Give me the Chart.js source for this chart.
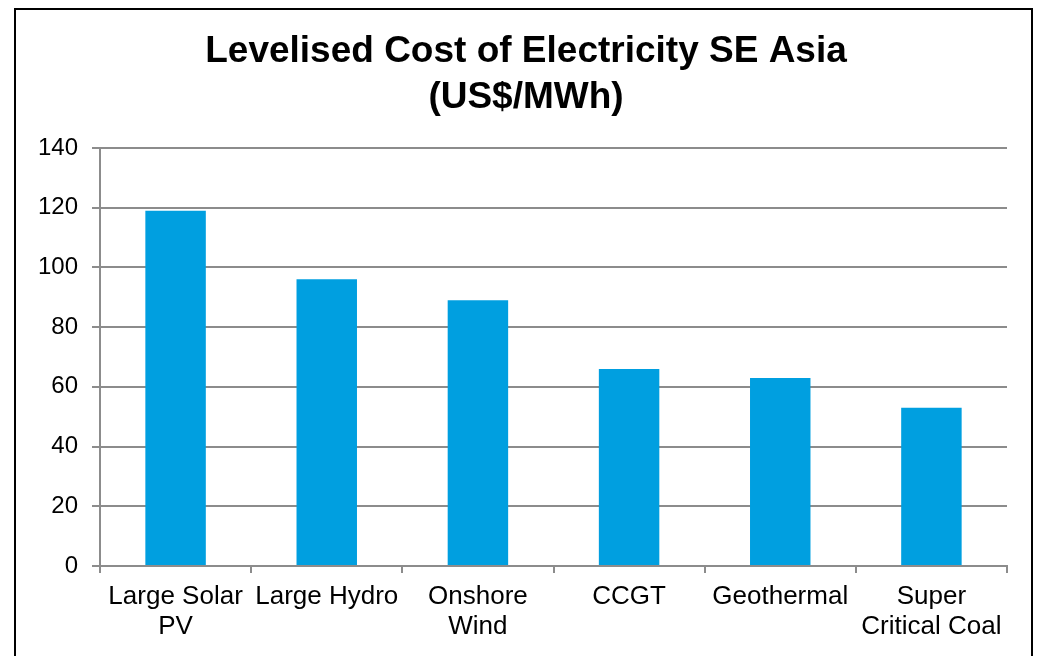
<!DOCTYPE html>
<html>
<head>
<meta charset="utf-8">
<script src="https://cdn.jsdelivr.net/npm/chart.js@4.4.0/dist/chart.umd.min.js"></script>
<style>
  html, body { margin: 0; padding: 0; background: #ffffff; }
  #wrap { position: absolute; left: 0; top: 0; width: 1039px; height: 656px; }
  #frame { position: absolute; left: 14px; top: 8px; width: 1015px; height: 700px; border: 2px solid #000; pointer-events: none; }
</style>
</head>
<body>
<div id="wrap"><canvas id="c" width="1039" height="656"></canvas></div>
<div id="frame"></div>
<script>
const categories = [['Large Solar', 'PV'], ['Large Hydro'], ['Onshore', 'Wind'], ['CCGT'], ['Geothermal'], ['Super', 'Critical Coal']];
const costValues = [119, 96, 89, 66, 63, 53];
const titleLines = ['Levelised Cost of Electricity SE Asia', '(US$/MWh)'];
const yMin = 0, yMax = 140, yStep = 20;

// Centre the title on the framed chart box rather than on the full canvas width.
const titleCentering = {
  id: 'titleCentering',
  afterLayout(chart) {
    if (chart.titleBlock) { chart.titleBlock.left += 45; }
  }
};

new Chart(document.getElementById('c'), {
  type: 'bar',
  data: {
    labels: categories,
    datasets: [{
      data: costValues,
      backgroundColor: '#009fe0',
      borderWidth: 0,
      barPercentage: 0.4,
      categoryPercentage: 1.0
    }]
  },
  plugins: [titleCentering],
  options: {
    responsive: false,
    animation: false,
    devicePixelRatio: 1,
    layout: { padding: { left: 0, right: 32, top: 0, bottom: 0 } },
    plugins: {
      legend: { display: false },
      tooltip: { enabled: false },
      title: {
        display: true,
        text: titleLines,
        color: '#000',
        font: { family: '"Liberation Sans", Arial, sans-serif', size: 37, weight: 'bold', lineHeight: 1.243 },
        padding: { top: 29, bottom: 27 }
      }
    },
    scales: {
      x: {
        offset: true,
        grid: { display: true, drawOnChartArea: false, drawTicks: true, tickLength: 7, color: '#8c8c8c', lineWidth: 2, offset: true },
        border: { display: true, color: '#8c8c8c', width: 2 },
        ticks: {
          color: '#000',
          font: { family: '"Liberation Sans", Arial, sans-serif', size: 26, lineHeight: 1.15 },
          padding: 9,
          maxRotation: 0,
          minRotation: 0,
          autoSkip: false
        },
        afterFit: (s) => { s.height = 90; }
      },
      y: {
        min: yMin,
        max: yMax,
        grid: { color: '#8c8c8c', lineWidth: 2, tickLength: 8, drawTicks: true },
        border: { display: true, color: '#8c8c8c', width: 2 },
        ticks: {
          stepSize: yStep,
          color: '#000',
          font: { family: '"Liberation Sans", Arial, sans-serif', size: 24 },
          padding: 14
        },
        afterFit: (s) => { s.width = 100; }
      }
    }
  }
});
</script>
</body>
</html>
